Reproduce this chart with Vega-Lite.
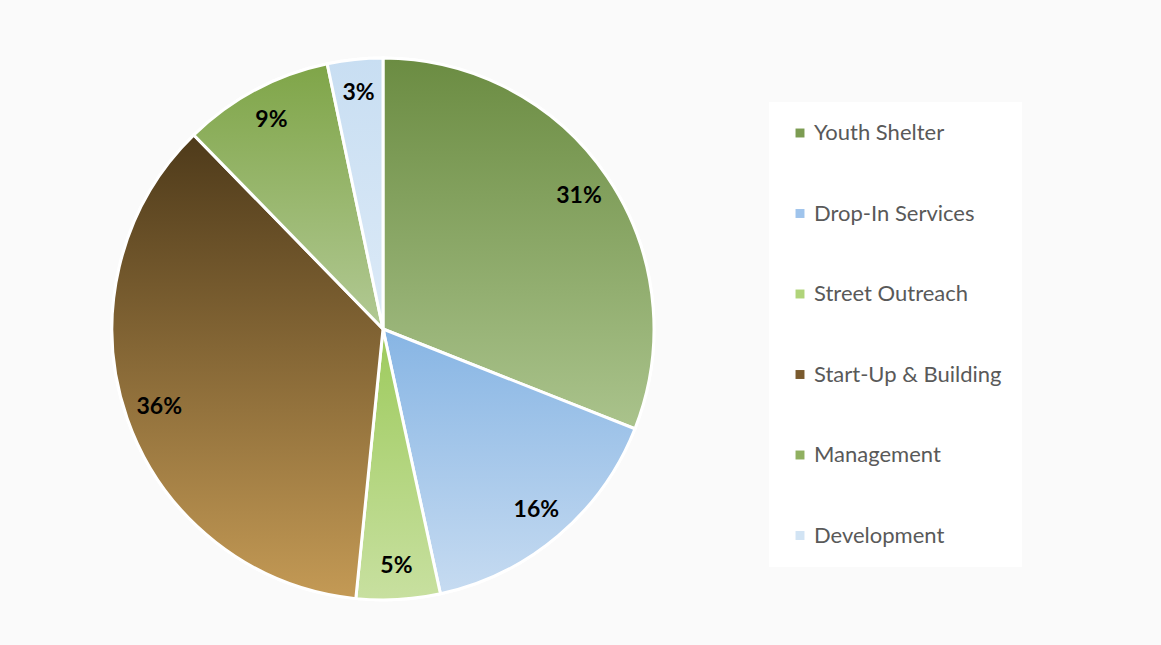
{
  "$schema": "https://vega.github.io/schema/vega-lite/v6.json",
  "width": 766,
  "height": 632,
  "autosize": {"type": "none"},
  "padding": {"left": 0, "top": 13, "right": 395, "bottom": 0},
  "background": "#fafafa",
  "config": {"view": {"stroke": null}},
  "data": {
    "values": [
      {"idx": 1, "category": "Youth Shelter", "share": 0.310},
      {"idx": 2, "category": "Drop-In Services", "share": 0.156},
      {"idx": 3, "category": "Street Outreach", "share": 0.050},
      {"idx": 4, "category": "Start-Up & Building", "share": 0.361},
      {"idx": 5, "category": "Management", "share": 0.090},
      {"idx": 6, "category": "Development", "share": 0.033}
    ]
  },
  "encoding": {
    "theta": {"field": "share", "type": "quantitative", "stack": true},
    "order": {"field": "idx", "type": "quantitative"},
    "detail": {"field": "category", "type": "nominal"}
  },
  "layer": [
    {
      "mark": {"type": "arc", "outerRadius": 271, "stroke": "white", "strokeWidth": 3},
      "encoding": {
        "color": {
          "field": "category",
          "type": "nominal",
          "scale": {
            "domain": ["Youth Shelter", "Drop-In Services", "Street Outreach", "Start-Up & Building", "Management", "Development"],
            "range": ["#7c9c52", "#9fc4ec", "#b0d47a", "#7a5a2e", "#90b060", "#d2e4f4"]
          },
          "legend": {
            "title": null,
            "orient": "none",
            "legendX": 769,
            "legendY": 89,
            "padding": 20,
            "fillColor": "white",
            "symbolType": "square",
            "symbolSize": 80,
            "symbolStrokeWidth": 0,
            "labelFont": "Lato",
            "labelFontSize": 22,
            "labelColor": "#595959",
            "labelOffset": 3,
            "rowPadding": 58.5,
            "labelLimit": 400
          }
        }
      }
    },
    {
      "mark": {"type": "arc", "outerRadius": 271, "stroke": "white", "strokeWidth": 3},
      "encoding": {
        "color": {
          "condition": [
            {"test": "datum.category === 'Youth Shelter'", "value": {"gradient": "linear", "x1": 0, "y1": 0, "x2": 0, "y2": 1, "stops": [{"offset": 0, "color": "#6b8c42"}, {"offset": 1, "color": "#aac38c"}]}},
            {"test": "datum.category === 'Drop-In Services'", "value": {"gradient": "linear", "x1": 0, "y1": 0, "x2": 0, "y2": 1, "stops": [{"offset": 0, "color": "#87b5e4"}, {"offset": 1, "color": "#c6dbf1"}]}},
            {"test": "datum.category === 'Street Outreach'", "value": {"gradient": "linear", "x1": 0, "y1": 0, "x2": 0, "y2": 1, "stops": [{"offset": 0, "color": "#9dca5c"}, {"offset": 1, "color": "#c8e0a0"}]}},
            {"test": "datum.category === 'Start-Up & Building'", "value": {"gradient": "linear", "x1": 0, "y1": 0, "x2": 0, "y2": 1, "stops": [{"offset": 0, "color": "#4e3a1a"}, {"offset": 1, "color": "#c49a55"}]}},
            {"test": "datum.category === 'Management'", "value": {"gradient": "linear", "x1": 0, "y1": 0, "x2": 0, "y2": 1, "stops": [{"offset": 0, "color": "#7fa548"}, {"offset": 1, "color": "#b2c994"}]}}
          ],
          "value": {"gradient": "linear", "x1": 0, "y1": 0, "x2": 0, "y2": 1, "stops": [{"offset": 0, "color": "#c8def2"}, {"offset": 1, "color": "#dceaf7"}]}
        }
      }
    },
    {
      "mark": {"type": "text", "radius": 237, "font": "Lato", "fontWeight": "bold", "fontSize": 23, "color": "black"},
      "encoding": {
        "text": {"field": "share", "type": "quantitative", "format": ".0%"}
      }
    }
  ]
}
